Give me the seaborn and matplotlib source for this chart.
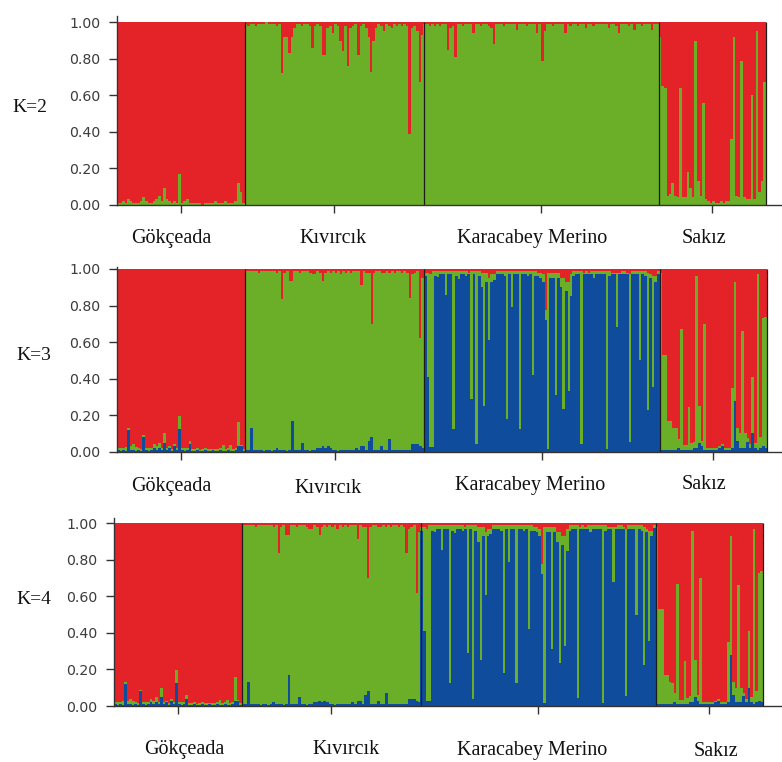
import numpy as np
import pandas as pd
import matplotlib
matplotlib.use("Agg")
import matplotlib.pyplot as plt
import seaborn as sns

# ---------------- data ----------------
populations = ["Gökçeada", "Kıvırcık", "Karacabey Merino", "Sakız"]
k_labels = ["K=2", "K=3", "K=4"]
ytick_values = [0.0, 0.2, 0.4, 0.6, 0.8, 1.0]
ytick_labels = ["0.00", "0.20", "0.40", "0.60", "0.80", "1.00"]

# K=2 : green membership (red = remainder)
k2_green_gokceada = [0.01, 0.01, 0.02, 0.01, 0.03, 0.02, 0.01, 0.01, 0.01, 0.02,
                     0.04, 0.02, 0.01, 0.01, 0.02, 0.03, 0.05, 0.02, 0.09, 0.03,
                     0.02, 0.01, 0.02, 0.01, 0.17, 0.01, 0.02, 0.03, 0.01, 0.01,
                     0.01, 0.01, 0.01, 0.00, 0.01, 0.01, 0.01, 0.01, 0.02, 0.01,
                     0.01, 0.01, 0.02, 0.01, 0.01, 0.01, 0.02, 0.12, 0.07, 0.01]
k2_green_kivircik = [0.99, 0.98, 0.99, 0.99, 0.98, 0.99, 0.99, 0.99, 1.00, 0.99,
                     0.99, 0.99, 0.98, 0.99, 0.72, 0.92, 0.92, 0.83, 0.92, 0.97,
                     0.99, 0.99, 0.98, 0.99, 0.99, 0.98, 0.86, 0.98, 0.99, 0.98,
                     0.82, 0.82, 0.97, 0.98, 0.94, 0.99, 0.98, 0.90, 0.84, 0.98,
                     0.76, 0.97, 0.98, 0.99, 0.82, 0.98, 0.99, 0.97, 0.92, 0.73,
                     0.90, 0.97, 0.99, 0.98, 0.95, 0.99, 0.98, 0.97, 0.99, 0.98,
                     0.99, 0.98, 0.99, 0.98, 0.39, 0.97, 0.98, 0.95, 0.67, 0.93]
k2_green_karacabey = [0.99, 0.99, 0.98, 0.99, 0.98, 0.99, 0.98, 0.99, 0.99, 0.85,
                      0.97, 0.98, 0.81, 0.99, 0.99, 0.98, 0.99, 0.99, 0.99, 0.94,
                      0.99, 0.99, 0.98, 0.99, 0.99, 0.98, 0.97, 0.88, 0.99, 0.99,
                      0.99, 0.98, 0.99, 0.99, 0.99, 0.99, 0.96, 0.99, 0.99, 0.99,
                      0.98, 0.99, 0.99, 0.99, 0.94, 0.99, 0.79, 0.95, 0.99, 0.99,
                      0.98, 0.99, 0.99, 0.99, 0.99, 0.94, 0.99, 0.98, 0.99, 0.99,
                      0.98, 0.99, 0.99, 0.97, 0.99, 0.99, 0.98, 0.99, 0.99, 0.99,
                      0.99, 0.99, 0.97, 0.99, 0.99, 0.98, 0.94, 0.99, 0.99, 0.99,
                      0.98, 0.99, 0.96, 0.99, 0.99, 0.98, 0.99, 0.99, 0.99, 0.96,
                      0.99, 0.99]
k2_green_sakiz = [0.92, 0.65, 0.64, 0.05, 0.06, 0.12, 0.05, 0.04, 0.64, 0.04,
                  0.04, 0.18, 0.09, 0.04, 0.90, 0.13, 0.05, 0.56, 0.03, 0.02,
                  0.01, 0.02, 0.01, 0.01, 0.02, 0.01, 0.02, 0.02, 0.36, 0.92,
                  0.05, 0.04, 0.79, 0.04, 0.03, 0.03, 0.60, 0.03, 0.95, 0.07,
                  0.13, 0.67]

# K=3 : blue and green memberships (red = remainder) / red given for some groups
k3_blue_gokceada = [0.01, 0.005, 0.01, 0.005, 0.12, 0.01, 0.01, 0.005, 0.01, 0.005,
                    0.08, 0.01, 0.005, 0.01, 0.02, 0.01, 0.02, 0.01, 0.05, 0.01,
                    0.02, 0.005, 0.03, 0.01, 0.125, 0.01, 0.005, 0.01, 0.04, 0.005,
                    0.005, 0.01, 0.005, 0.005, 0.01, 0.005, 0.005, 0.01, 0.005, 0.005,
                    0.01, 0.005, 0.005, 0.01, 0.005, 0.005, 0.01, 0.03, 0.03, 0.005]
k3_green_gokceada = [0.01, 0.015, 0.01, 0.02, 0.01, 0.02, 0.03, 0.02, 0.01, 0.01,
                     0.01, 0.01, 0.015, 0.01, 0.02, 0.02, 0.03, 0.01, 0.05, 0.01,
                     0.01, 0.01, 0.01, 0.01, 0.07, 0.01, 0.015, 0.01, 0.02, 0.01,
                     0.01, 0.01, 0.005, 0.01, 0.01, 0.01, 0.01, 0.005, 0.01, 0.01,
                     0.01, 0.03, 0.01, 0.01, 0.03, 0.01, 0.01, 0.13, 0.005, 0.01]
k3_blue_kivircik = [0.01, 0.01, 0.13, 0.01, 0.01, 0.01, 0.01, 0.005, 0.01, 0.01,
                    0.005, 0.01, 0.02, 0.01, 0.01, 0.01, 0.005, 0.01, 0.17, 0.01,
                    0.01, 0.01, 0.05, 0.01, 0.01, 0.005, 0.01, 0.01, 0.02, 0.02,
                    0.03, 0.02, 0.03, 0.02, 0.01, 0.01, 0.005, 0.01, 0.01, 0.01,
                    0.01, 0.01, 0.01, 0.02, 0.01, 0.03, 0.03, 0.01, 0.06, 0.08,
                    0.01, 0.01, 0.01, 0.03, 0.01, 0.01, 0.07, 0.01, 0.01, 0.01,
                    0.01, 0.01, 0.01, 0.01, 0.01, 0.04, 0.04, 0.04, 0.03, 0.02]
k3_red_kivircik = [0.01, 0.01, 0.01, 0.01, 0.01, 0.02, 0.01, 0.01, 0.01, 0.01,
                   0.01, 0.01, 0.02, 0.01, 0.165, 0.02, 0.01, 0.065, 0.065, 0.01,
                   0.01, 0.02, 0.01, 0.01, 0.01, 0.02, 0.03, 0.03, 0.01, 0.02,
                   0.065, 0.02, 0.01, 0.02, 0.01, 0.02, 0.01, 0.03, 0.01, 0.02,
                   0.01, 0.02, 0.01, 0.01, 0.01, 0.087, 0.01, 0.02, 0.02, 0.30,
                   0.02, 0.01, 0.01, 0.02, 0.02, 0.01, 0.02, 0.01, 0.02, 0.01,
                   0.01, 0.02, 0.01, 0.02, 0.16, 0.03, 0.02, 0.01, 0.38, 0.05]
k3_blue_karacabey = [0.96, 0.41, 0.025, 0.025, 0.96, 0.955, 0.97, 0.97, 0.855, 0.97,
                     0.97, 0.125, 0.96, 0.945, 0.97, 0.97, 0.96, 0.97, 0.29, 0.97,
                     0.04, 0.96, 0.90, 0.25, 0.93, 0.61, 0.93, 0.94, 0.97, 0.97,
                     0.97, 0.96, 0.18, 0.97, 0.79, 0.97, 0.97, 0.125, 0.97, 0.97,
                     0.96, 0.97, 0.42, 0.96, 0.96, 0.95, 0.93, 0.72, 0.016, 0.95,
                     0.95, 0.31, 0.95, 0.90, 0.235, 0.88, 0.33, 0.85, 0.96, 0.97,
                     0.97, 0.044, 0.97, 0.97, 0.97, 0.97, 0.95, 0.97, 0.97, 0.97,
                     0.97, 0.016, 0.96, 0.97, 0.97, 0.68, 0.97, 0.97, 0.97, 0.97,
                     0.053, 0.97, 0.97, 0.97, 0.50, 0.97, 0.96, 0.226, 0.95, 0.355,
                     0.93, 0.975]
k3_red_karacabey = [0.02, 0.02, 0.03, 0.01, 0.01, 0.01, 0.01, 0.01, 0.01, 0.01,
                    0.01, 0.01, 0.01, 0.01, 0.01, 0.01, 0.01, 0.02, 0.01, 0.01,
                    0.01, 0.01, 0.02, 0.02, 0.02, 0.05, 0.03, 0.03, 0.01, 0.01,
                    0.01, 0.01, 0.01, 0.01, 0.01, 0.01, 0.01, 0.01, 0.01, 0.01,
                    0.01, 0.01, 0.01, 0.01, 0.02, 0.02, 0.03, 0.225, 0.02, 0.02,
                    0.02, 0.02, 0.02, 0.05, 0.05, 0.07, 0.07, 0.03, 0.01, 0.01,
                    0.01, 0.01, 0.02, 0.01, 0.02, 0.01, 0.01, 0.01, 0.01, 0.01,
                    0.01, 0.01, 0.01, 0.02, 0.02, 0.02, 0.02, 0.01, 0.01, 0.02,
                    0.03, 0.01, 0.01, 0.01, 0.01, 0.01, 0.01, 0.02, 0.03, 0.04,
                    0.04, 0.01]
k3_blue_sakiz = [0.01, 0.01, 0.01, 0.01, 0.01, 0.01, 0.01, 0.02, 0.01, 0.01,
                 0.01, 0.01, 0.01, 0.02, 0.02, 0.05, 0.03, 0.01, 0.01, 0.01,
                 0.01, 0.01, 0.01, 0.02, 0.03, 0.01, 0.01, 0.01, 0.02, 0.28,
                 0.06, 0.02, 0.02, 0.02, 0.053, 0.02, 0.10, 0.02, 0.01, 0.02,
                 0.03, 0.02]
k3_green_sakiz = [0.97, 0.52, 0.52, 0.16, 0.16, 0.12, 0.117, 0.05, 0.66, 0.025,
                  0.025, 0.235, 0.035, 0.035, 0.94, 0.20, 0.03, 0.69, 0.01, 0.01,
                  0.01, 0.01, 0.01, 0.01, 0.01, 0.01, 0.01, 0.01, 0.33, 0.65,
                  0.07, 0.08, 0.64, 0.08, 0.02, 0.02, 0.31, 0.03, 0.96, 0.06,
                  0.70, 0.72]

# K=4 : the bars read the same as K=3
k4_blue_gokceada = list(k3_blue_gokceada)
k4_green_gokceada = list(k3_green_gokceada)
k4_blue_kivircik = list(k3_blue_kivircik)
k4_red_kivircik = list(k3_red_kivircik)
k4_blue_karacabey = list(k3_blue_karacabey)
k4_red_karacabey = list(k3_red_karacabey)
k4_blue_sakiz = list(k3_blue_sakiz)
k4_green_sakiz = list(k3_green_sakiz)

# ---------------- build per-panel tables ----------------
def k2_table():
    g = np.array(k2_green_gokceada + k2_green_kivircik + k2_green_karacabey + k2_green_sakiz)
    b = np.zeros_like(g)
    r = 1 - g
    return b, g, r

def k3_table(bg, gg, bk, rk, bm, rm, bs, gs):
    bg, gg = np.array(bg), np.array(gg)
    bk, rk = np.array(bk), np.array(rk)
    bm, rm = np.array(bm), np.array(rm)
    bs, gs = np.array(bs), np.array(gs)
    b = np.concatenate([bg, bk, bm, bs])
    g = np.concatenate([gg, 1 - bk - rk, 1 - bm - rm, gs])
    r = 1 - b - g
    return b, g, r

tables = [
    k2_table(),
    k3_table(k3_blue_gokceada, k3_green_gokceada, k3_blue_kivircik, k3_red_kivircik,
             k3_blue_karacabey, k3_red_karacabey, k3_blue_sakiz, k3_green_sakiz),
    k3_table(k4_blue_gokceada, k4_green_gokceada, k4_blue_kivircik, k4_red_kivircik,
             k4_blue_karacabey, k4_red_karacabey, k4_blue_sakiz, k4_green_sakiz),
]
pop_sizes = [len(k2_green_gokceada), len(k2_green_kivircik),
             len(k2_green_karacabey), len(k2_green_sakiz)]

# ---------------- style ----------------
sns.set_style("ticks")
plt.rcParams["font.family"] = ["DejaVu Sans"]
RED, GREEN, BLUE = "#E42328", "#6BAE27", "#0F4D9C"
SERIF = ["Liberation Serif", "DejaVu Serif"]

W, H = 782, 762
fig = plt.figure(figsize=(W / 100, H / 100), dpi=100)

# pixel layout of the three panels
layout = [
    dict(left=117, bars_right=766, y0=204.7, y1=22.3, ytop=16,
         klab=(30, 107), labx=[171, 333.5, 532, 704], laby=[243, 243, 243, 243]),
    dict(left=117, bars_right=767, y0=451.7, y1=269, ytop=266.5,
         klab=(34, 355), labx=[171.5, 328, 530, 704], laby=[491, 493, 490, 489]),
    dict(left=114, bars_right=763, y0=706, y1=523.3, ytop=517.7,
         klab=(34, 599), labx=[184, 346, 532, 716], laby=[754, 754, 755, 756]),
]

bounds = np.cumsum(pop_sizes)
starts = np.concatenate([[0], bounds[:-1]])
centers = starts + np.array(pop_sizes) / 2 - 0.5

for p, (lay, (b, g, r)) in enumerate(zip(layout, tables)):
    N = len(b)
    pxper = (lay["bars_right"] - lay["left"]) / N
    ax = fig.add_axes([lay["left"] / W, 1 - lay["y0"] / H,
                       (W - lay["left"]) / W, (lay["y0"] - lay["ytop"]) / H])
    df = pd.DataFrame({"ind": np.arange(N), "top": b + g + r, "mid": b + g, "low": b})
    layers = [("top", RED), ("mid", GREEN)]
    if p > 0:
        layers.append(("low", BLUE))
    for col, colr in layers:
        sns.barplot(data=df, x="ind", y=col, color=colr, saturation=1, width=1.12,
                    linewidth=0, errorbar=None, ax=ax, antialiased=False)
    ax.set_xlim(-0.5, -0.5 + (W - lay["left"]) / pxper)
    ax.set_ylim(0, 1 + (lay["y1"] - lay["ytop"]) / (lay["y0"] - lay["y1"]))
    ax.vlines(bounds - 0.5, 0, 1, color="#1c1c1c", lw=0.9, zorder=5)
    for s in ["top", "right"]:
        ax.spines[s].set_visible(False)
    for s in ["left", "bottom"]:
        ax.spines[s].set_color("#333333")
        ax.spines[s].set_linewidth(1.0)
        ax.spines[s].set_zorder(6)
    ax.set_yticks(ytick_values)
    ax.set_yticklabels(ytick_labels)
    ax.set_xticks(centers)
    ax.set_xticklabels([])
    ax.set_xlabel("")
    ax.set_ylabel("")
    ax.tick_params(axis="both", direction="out", length=5.8, width=1.0,
                   color="#333333", labelcolor="#3c3c3c", labelsize=10.2, pad=6)
    ax.patch.set_alpha(0)
    # K label
    fig.text(lay["klab"][0] / W, 1 - lay["klab"][1] / H, k_labels[p],
             ha="center", va="center", family=SERIF, fontsize=14, color="#111111")
    # population labels
    for name, lx, ly in zip(populations, lay["labx"], lay["laby"]):
        fig.text(lx / W, 1 - ly / H, name, ha="center", va="baseline",
                 family=SERIF, fontsize=14.5, color="#111111")

fig.savefig("out.png", dpi=100, facecolor="white")
